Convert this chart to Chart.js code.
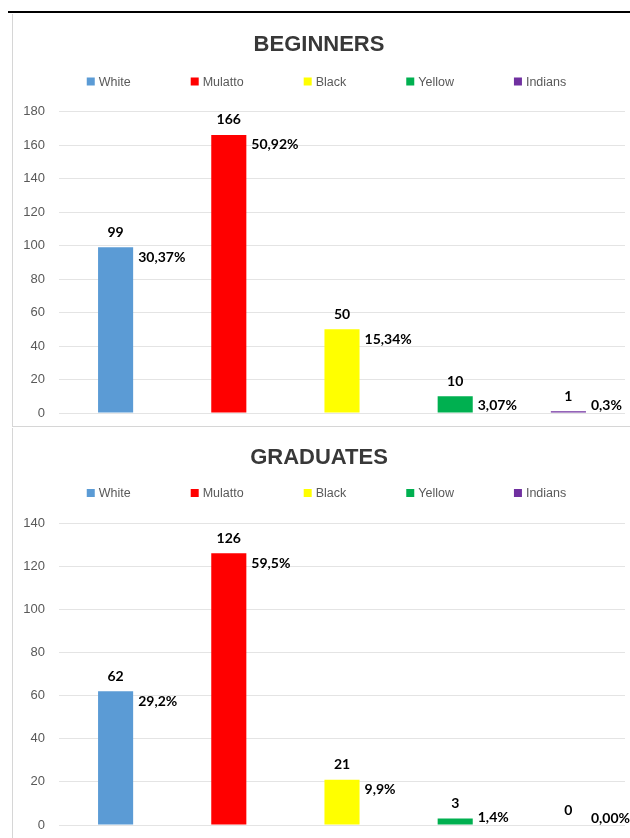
<!DOCTYPE html>
<html>
<head>
<meta charset="utf-8">
<title>Beginners and graduates</title>
<script src="https://cdn.jsdelivr.net/npm/chart.js@4.4.1/dist/chart.umd.min.js"></script>
<style>
    html, body { margin: 0; padding: 0; background: #fff; width: 630px; height: 838px; overflow: hidden; }
    #topLine { position: absolute; left: 8px; top: 11px; width: 622px; height: 2px; background: #000; }
    .panel { position: absolute; left: 12px; width: 630px; border-left: 1px solid #d6d6d6; }
    #panel1 { top: 14px; height: 412px; border-bottom: 1px solid #d6d6d6; }
    #panel2 { top: 428px; height: 410px; }
    .box { position: relative; width: 627px; height: 100%; }
</style>
</head>
<body>
<div id="topLine"></div>
<div class="panel" id="panel1"><div class="box"><canvas id="beginnersChart"></canvas></div></div>
<div class="panel" id="panel2"><div class="box"><canvas id="graduatesChart"></canvas></div></div>

<script>
const categories = ["White", "Mulatto", "Black", "Yellow", "Indians"];
const barColors = ["#5b9bd5", "#ff0000", "#ffff00", "#00b050", "#7030a0"];

const beginnersValues = [99, 166, 50, 10, 1];
const beginnersShares = ["30,37%", "50,92%", "15,34%", "3,07%", "0,3%"];
const beginnersTicks = [0, 20, 40, 60, 80, 100, 120, 140, 160, 180];

const graduatesValues = [62, 126, 21, 3, 0];
const graduatesShares = ["29,2%", "59,5%", "9,9%", "1,4%", "0,00%"];
const graduatesTicks = [0, 20, 40, 60, 80, 100, 120, 140];

// value above each bar, share to the right of its top
const barLabels = {
    id: "barLabels",
    afterDatasetsDraw(chart) {
        const ctx = chart.ctx;
        const ds = chart.data.datasets[0];
        ctx.save();
        ctx.fillStyle = "#000";
        ctx.font = "bold 14px Lato";
        ctx.textBaseline = "middle";
        chart.getDatasetMeta(0).data.forEach(function (bar, i) {
            ctx.textAlign = "center";
            ctx.fillText(String(ds.data[i]), bar.x, bar.y - 15);
            ctx.textAlign = "left";
            ctx.fillText(ds.shares[i], bar.x + bar.width / 2 + 5, Math.min(bar.y + 10, bar.base - 7));
        });
        ctx.restore();
    }
};

// one row legend, one entry per category
const rowLegend = {
    id: "rowLegend",
    afterDraw(chart) {
        const ctx = chart.ctx;
        const labels = chart.data.labels;
        const colors = chart.data.datasets[0].backgroundColor;
        const box = 8, textGap = 4, gap = 60;
        ctx.save();
        ctx.font = '12.5px "Liberation Sans"';
        ctx.textBaseline = "middle";
        ctx.textAlign = "left";
        const widths = labels.map(t => box + textGap + ctx.measureText(t).width);
        const total = widths.reduce((a, b) => a + b, 0) + gap * (labels.length - 1);
        let x = chart.width / 2 - total / 2;
        const y = chart.chartArea.top - 30;
        labels.forEach(function (t, i) {
            ctx.fillStyle = colors[i];
            ctx.fillRect(x, y - 4, box, box);
            ctx.fillStyle = "#595959";
            ctx.fillText(t, x + box + textGap, y + 1);
            x += widths[i] + gap;
        });
        ctx.restore();
    }
};

function makeChart(id, title, values, shares, ticks, pad) {
    return new Chart(document.getElementById(id), {
        type: "bar",
        data: {
            labels: categories,
            datasets: [{
                data: values,
                shares: shares,
                backgroundColor: barColors,
                borderWidth: 0,
                barPercentage: 0.31,
                categoryPercentage: 1
            }]
        },
        options: {
            responsive: true,
            maintainAspectRatio: false,
            animation: false,
            layout: { padding: { left: 0, right: 15, top: 0, bottom: 13 } },
            plugins: {
                legend: { display: false },
                tooltip: { enabled: false },
                title: {
                    display: true,
                    text: title,
                    color: "#383838",
                    font: { family: "Liberation Sans", size: 22, weight: "bold" },
                    padding: { top: pad[0], bottom: pad[1] }
                }
            },
            scales: {
                x: { display: false },
                y: {
                    min: ticks[0],
                    max: ticks[ticks.length - 1],
                    afterBuildTicks: function (scale) {
                        scale.ticks = ticks.map(v => ({ value: v }));
                    },
                    afterFit: function (scale) { scale.width = 46; },
                    border: { display: false },
                    grid: { color: "#e4e4e4", tickColor: "rgba(0,0,0,0)", tickLength: 11 },
                    ticks: {
                        padding: 3,
                        color: "#595959",
                        font: { family: "Liberation Sans", size: 13 }
                    }
                }
            }
        },
        plugins: [barLabels, rowLegend]
    });
}

makeChart("beginnersChart", "BEGINNERS", beginnersValues, beginnersShares, beginnersTicks, [17.5, 53.6]);
makeChart("graduatesChart", "GRADUATES", graduatesValues, graduatesShares, graduatesTicks, [17.1, 51.5]);
</script>
</body>
</html>
